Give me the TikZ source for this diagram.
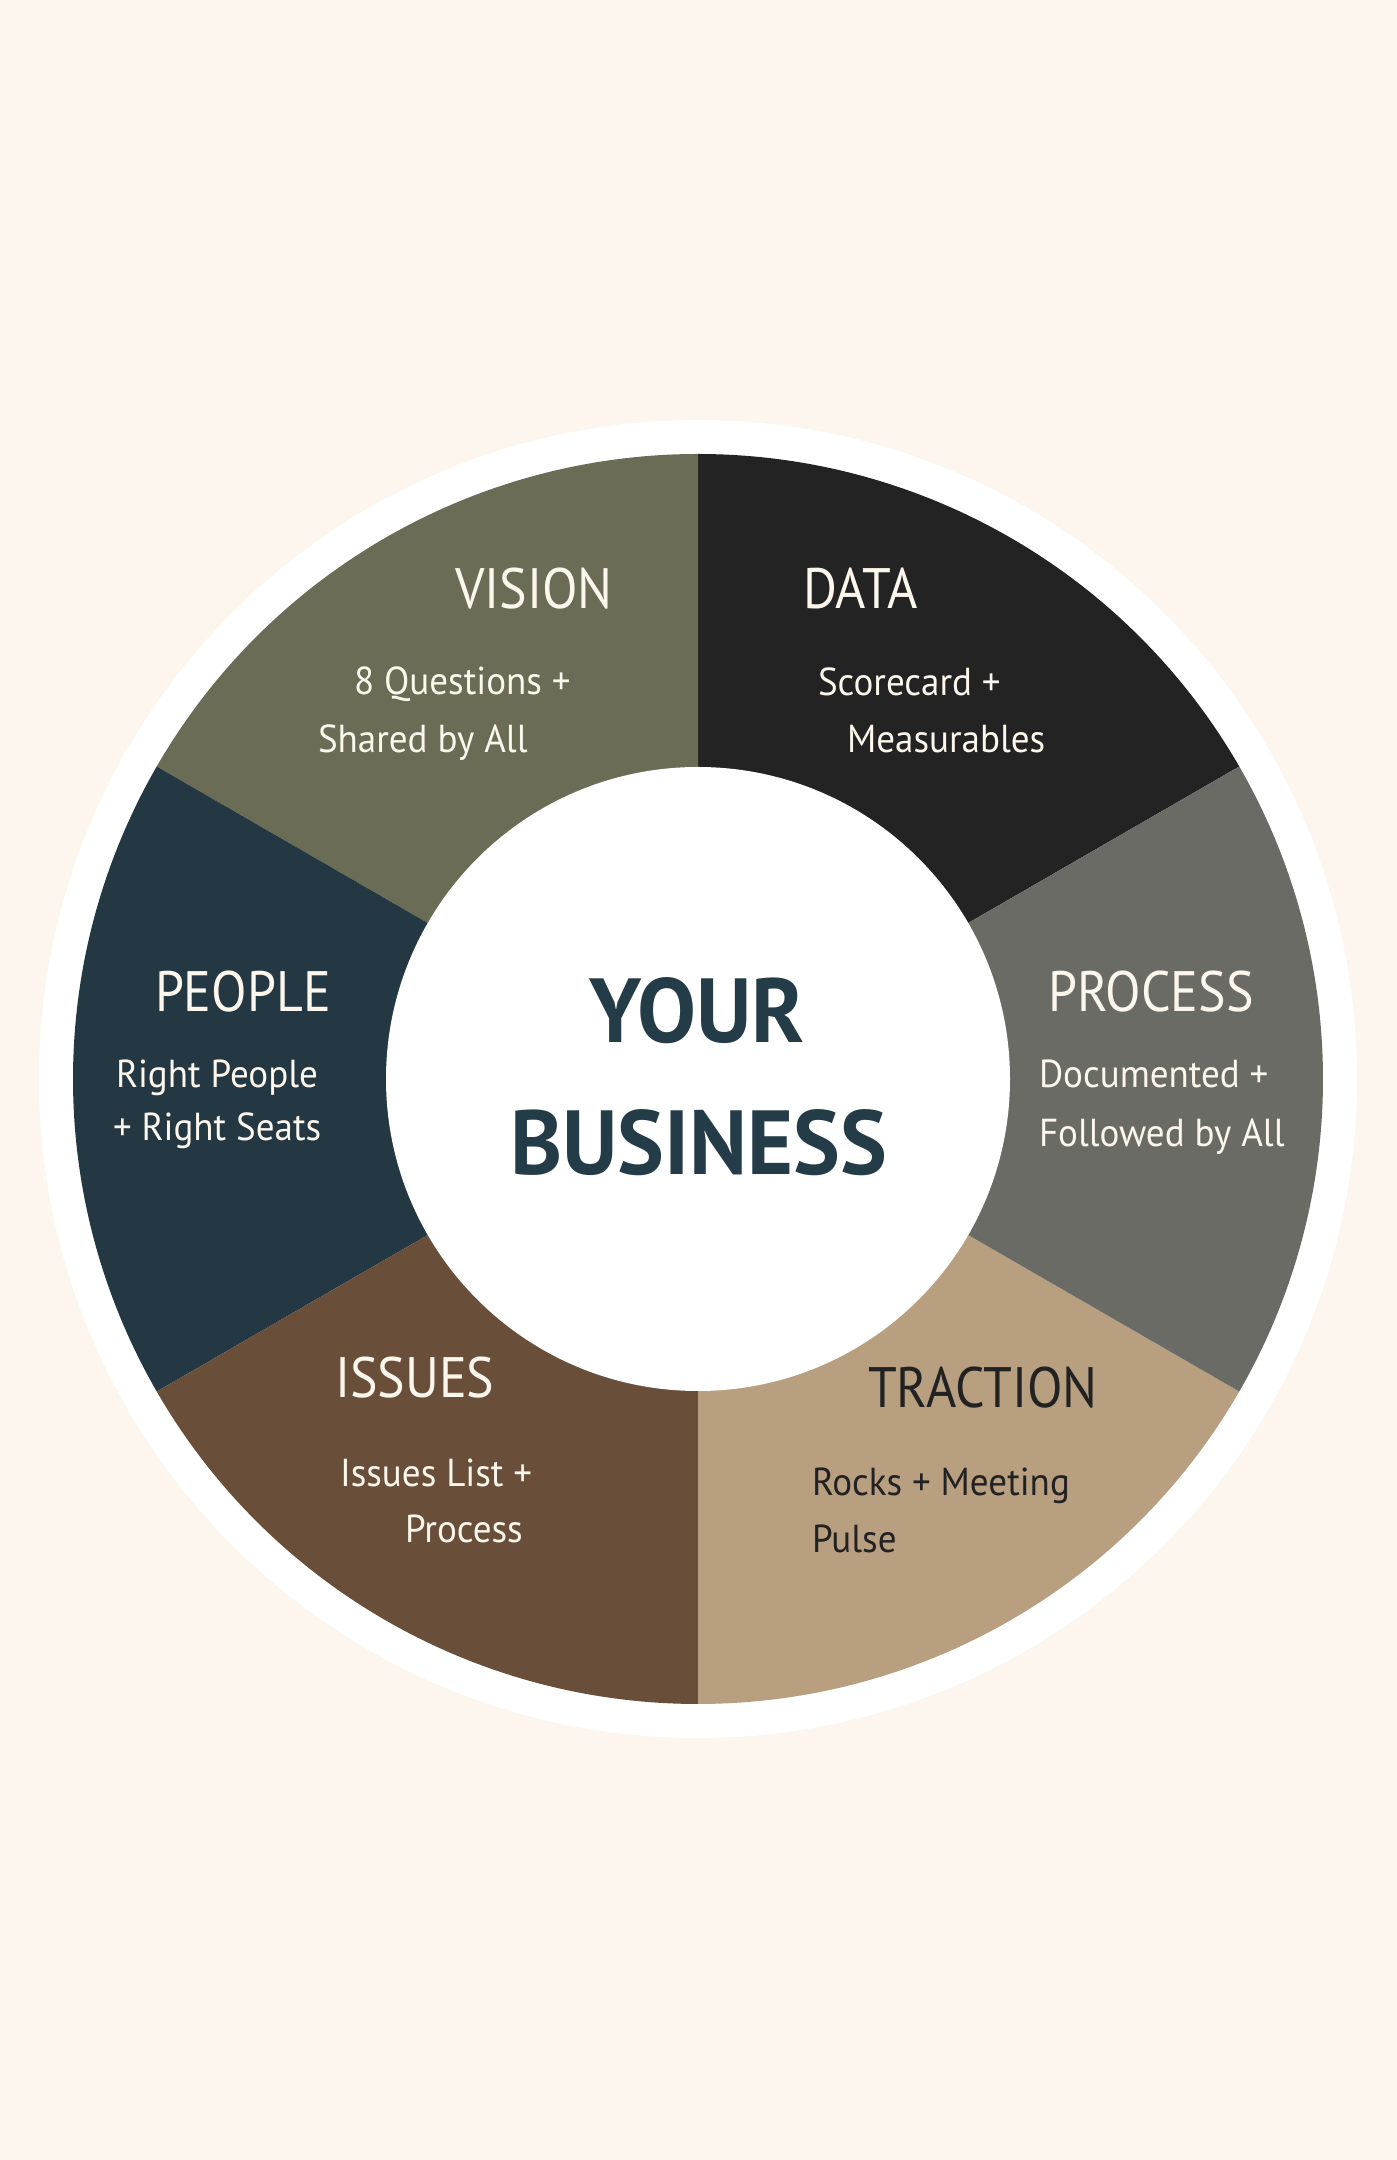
\documentclass[tikz,border=0pt]{standalone}
\usepackage{fontspec}
\setmainfont[FakeStretch=0.91]{PT Sans}
\newfontfamily\subfont[FakeStretch=0.95]{PT Sans}
\newfontfamily\centerfont[FakeStretch=0.97]{PT Sans}
\definecolor{bgcream}{HTML}{FDF6EE}
\definecolor{txtcream}{HTML}{FDF6EC}
\definecolor{visioncol}{HTML}{6A6C55}
\definecolor{datacol}{HTML}{232323}
\definecolor{processcol}{HTML}{6B6B66}
\definecolor{tractioncol}{HTML}{B89F80}
\definecolor{issuescol}{HTML}{694F3A}
\definecolor{peoplecol}{HTML}{233843}
\definecolor{centertxt}{HTML}{243B48}
\definecolor{darktxt}{HTML}{222222}
\tikzset{
  lbl/.style={inner sep=0pt, outer sep=0pt, anchor=base west},
  title/.style={lbl, font=\fontsize{28.5pt}{34pt}\selectfont},
  sub/.style={lbl, font=\subfont\fontsize{19.5pt}{23pt}\selectfont},
  centerlbl/.style={inner sep=0pt, outer sep=0pt, anchor=base, text=centertxt,
    font=\centerfont\fontsize{45.5pt}{50pt}\selectfont\bfseries},
}
\begin{document}
\begin{tikzpicture}[x=0.5pt,y=0.5pt]
\fill[bgcream] (0,0) rectangle (1397,2160);
\useasboundingbox (0,0) rectangle (1397,2160);
\coordinate (c) at (698,1081);
% outer white ring
\fill[white] (c) circle[radius=659];
% segments
\fill[datacol]     (c) -- ++(30:625)  arc[start angle=30,  end angle=90,  radius=625] -- cycle;
\fill[visioncol]   (c) -- ++(90:625)  arc[start angle=90,  end angle=150, radius=625] -- cycle;
\fill[peoplecol]   (c) -- ++(150:625) arc[start angle=150, end angle=210, radius=625] -- cycle;
\fill[issuescol]   (c) -- ++(210:625) arc[start angle=210, end angle=270, radius=625] -- cycle;
\fill[tractioncol] (c) -- ++(270:625) arc[start angle=270, end angle=330, radius=625] -- cycle;
\fill[processcol]  (c) -- ++(-30:625) arc[start angle=-30, end angle=30,  radius=625] -- cycle;
% inner white circle
\fill[white] (c) circle[radius=312];
% center text
\node[centerlbl] (your) at (697,1117) {YOUR};
\node[centerlbl] (business) at (699,985) {BUSINESS};
% VISION
\node[title, text=txtcream] (vision) at (455,1551) {VISION};
\node[sub, text=txtcream] (vision1) at (354,1465) {8 Questions +};
\node[sub, text=txtcream] (vision2) at (318,1407) {Shared by All};
% DATA
\node[title, text=txtcream] (data) at (803,1551) {DATA};
\node[sub, text=txtcream] (data1) at (818,1464) {Scorecard +};
\node[sub, text=txtcream] (data2) at (847,1407) {Measurables};
% PEOPLE
\node[title, text=txtcream] (people) at (155,1148) {PEOPLE};
\node[sub, text=txtcream] (people1) at (116,1072) {Right People};
\node[sub, text=txtcream] (people2) at (113,1019) {+ Right Seats};
% PROCESS
\node[title, text=txtcream] (process) at (1048,1148) {PROCESS};
\node[sub, text=txtcream] (process1) at (1039,1072) {Documented +};
\node[sub, text=txtcream] (process2) at (1039,1013) {Followed by All};
% ISSUES
\node[title, text=txtcream] (issues) at (335,762) {ISSUES};
\node[sub, text=txtcream] (issues1) at (340,673) {Issues List +};
\node[sub, text=txtcream] (issues2) at (405,617) {Process};
% TRACTION
\node[title, text=darktxt] (traction) at (868,752) {TRACTION};
\node[sub, text=darktxt] (traction1) at (812,664) {Rocks + Meeting};
\node[sub, text=darktxt] (traction2) at (812,607) {Pulse};
\end{tikzpicture}
\end{document}
